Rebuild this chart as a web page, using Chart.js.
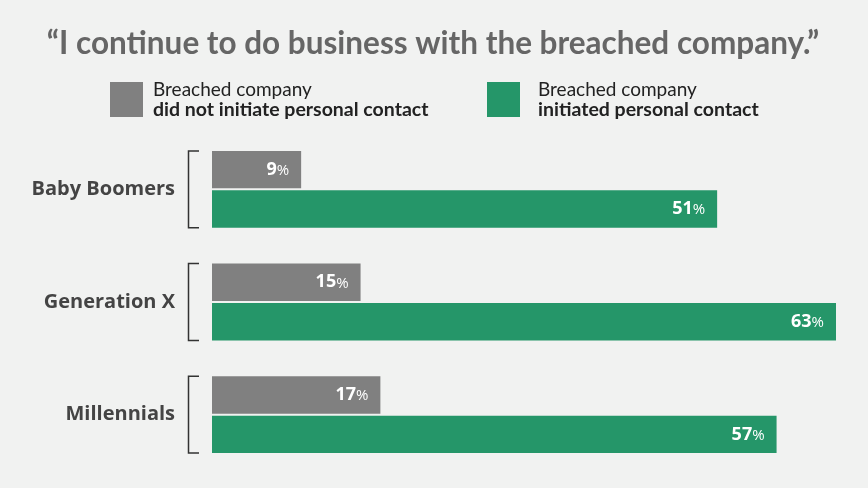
<!DOCTYPE html>
<html>
<head>
<meta charset="utf-8">
<script src="https://cdn.jsdelivr.net/npm/chart.js@4.4.1/dist/chart.umd.min.js"></script>
<style>
  html, body { margin: 0; padding: 0; background: #f1f2f1; }
  #wrap { width: 868px; height: 488px; position: relative; }
</style>
</head>
<body>
<div id="wrap"><canvas id="breachChart"></canvas></div>
<script>
const generations = ['Baby Boomers', 'Generation X', 'Millennials'];
const noContact = [9, 15, 17];
const personalContact = [51, 63, 57];
const seriesNames = [
  ['Breached company', 'did not initiate personal contact'],
  ['Breached company', 'initiated personal contact']
];
const chartTitle = '\u201CI continue to do business with the breached company.\u201D';

const GRAY = '#808080';
const GREEN = '#259669';

// title, legend, category labels, brackets and value labels drawn by hand
const decorations = {
  id: 'decorations',
  afterDraw(chart) {
    const ctx = chart.ctx;
    const y = chart.scales.y;
    ctx.save();

    ctx.fillStyle = '#666666';
    ctx.font = 'bold 31.5px Lato';
    ctx.textAlign = 'center';
    ctx.textBaseline = 'middle';
    ctx.fillText(chartTitle, 433, 44);

    // legend
    const boxX = [110, 487];
    const textX = [153, 538];
    [GRAY, GREEN].forEach((c, i) => {
      ctx.fillStyle = c;
      ctx.fillRect(boxX[i], 82, 33, 35);
      ctx.textAlign = 'left';
      ctx.fillStyle = '#222';
      ctx.font = '19px Lato';
      ctx.fillText(seriesNames[i][0], textX[i], 90);
      ctx.font = 'bold 19.5px Lato';
      ctx.fillText(seriesNames[i][1], textX[i], 110);
    });

    const m0 = chart.getDatasetMeta(0), m1 = chart.getDatasetMeta(1);

    // category labels
    ctx.fillStyle = '#444444';
    ctx.font = 'bold 20px "Open Sans"';
    ctx.textAlign = 'right';
    generations.forEach((g, i) => {
      ctx.fillText(g, 175, y.getPixelForValue(i));
    });

    // brackets around each pair of bars
    ctx.strokeStyle = '#333';
    ctx.lineWidth = 1.5;
    generations.forEach((g, i) => {
      const top = m0.data[i].y - m0.data[i].height / 2;
      const bot = m1.data[i].y + m1.data[i].height / 2;
      ctx.beginPath();
      ctx.moveTo(199, top);
      ctx.lineTo(188.5, top);
      ctx.lineTo(188.5, bot);
      ctx.lineTo(199, bot);
      ctx.stroke();
    });

    // value labels
    ctx.fillStyle = '#ffffff';
    [m0, m1].forEach((meta, d) => {
      meta.data.forEach((bar, i) => {
        const v = chart.data.datasets[d].data[i];
        ctx.font = '15px "Open Sans"';
        const pw = ctx.measureText('%').width;
        ctx.fillText('%', bar.x - 12, bar.y + 1);
        ctx.font = 'bold 18px "Open Sans"';
        ctx.fillText(String(v), bar.x - 12 - pw, bar.y);
      });
    });
    ctx.restore();
  }
};

new Chart(document.getElementById('breachChart'), {
  type: 'bar',
  data: {
    labels: generations,
    datasets: [
      { label: seriesNames[0].join(' '), data: noContact, backgroundColor: GRAY },
      { label: seriesNames[1].join(' '), data: personalContact, backgroundColor: GREEN }
    ]
  },
  options: {
    indexAxis: 'y',
    responsive: true,
    maintainAspectRatio: false,
    animation: false,
    layout: { padding: { top: 133, bottom: 17, left: 212, right: 32 } },
    datasets: { bar: { barPercentage: 0.95, categoryPercentage: 0.7 } },
    scales: {
      x: { display: false, min: 0, max: 63 },
      y: { display: false }
    },
    plugins: {
      legend: { display: false },
      tooltip: { enabled: false }
    }
  },
  plugins: [decorations]
});
</script>
</body>
</html>
